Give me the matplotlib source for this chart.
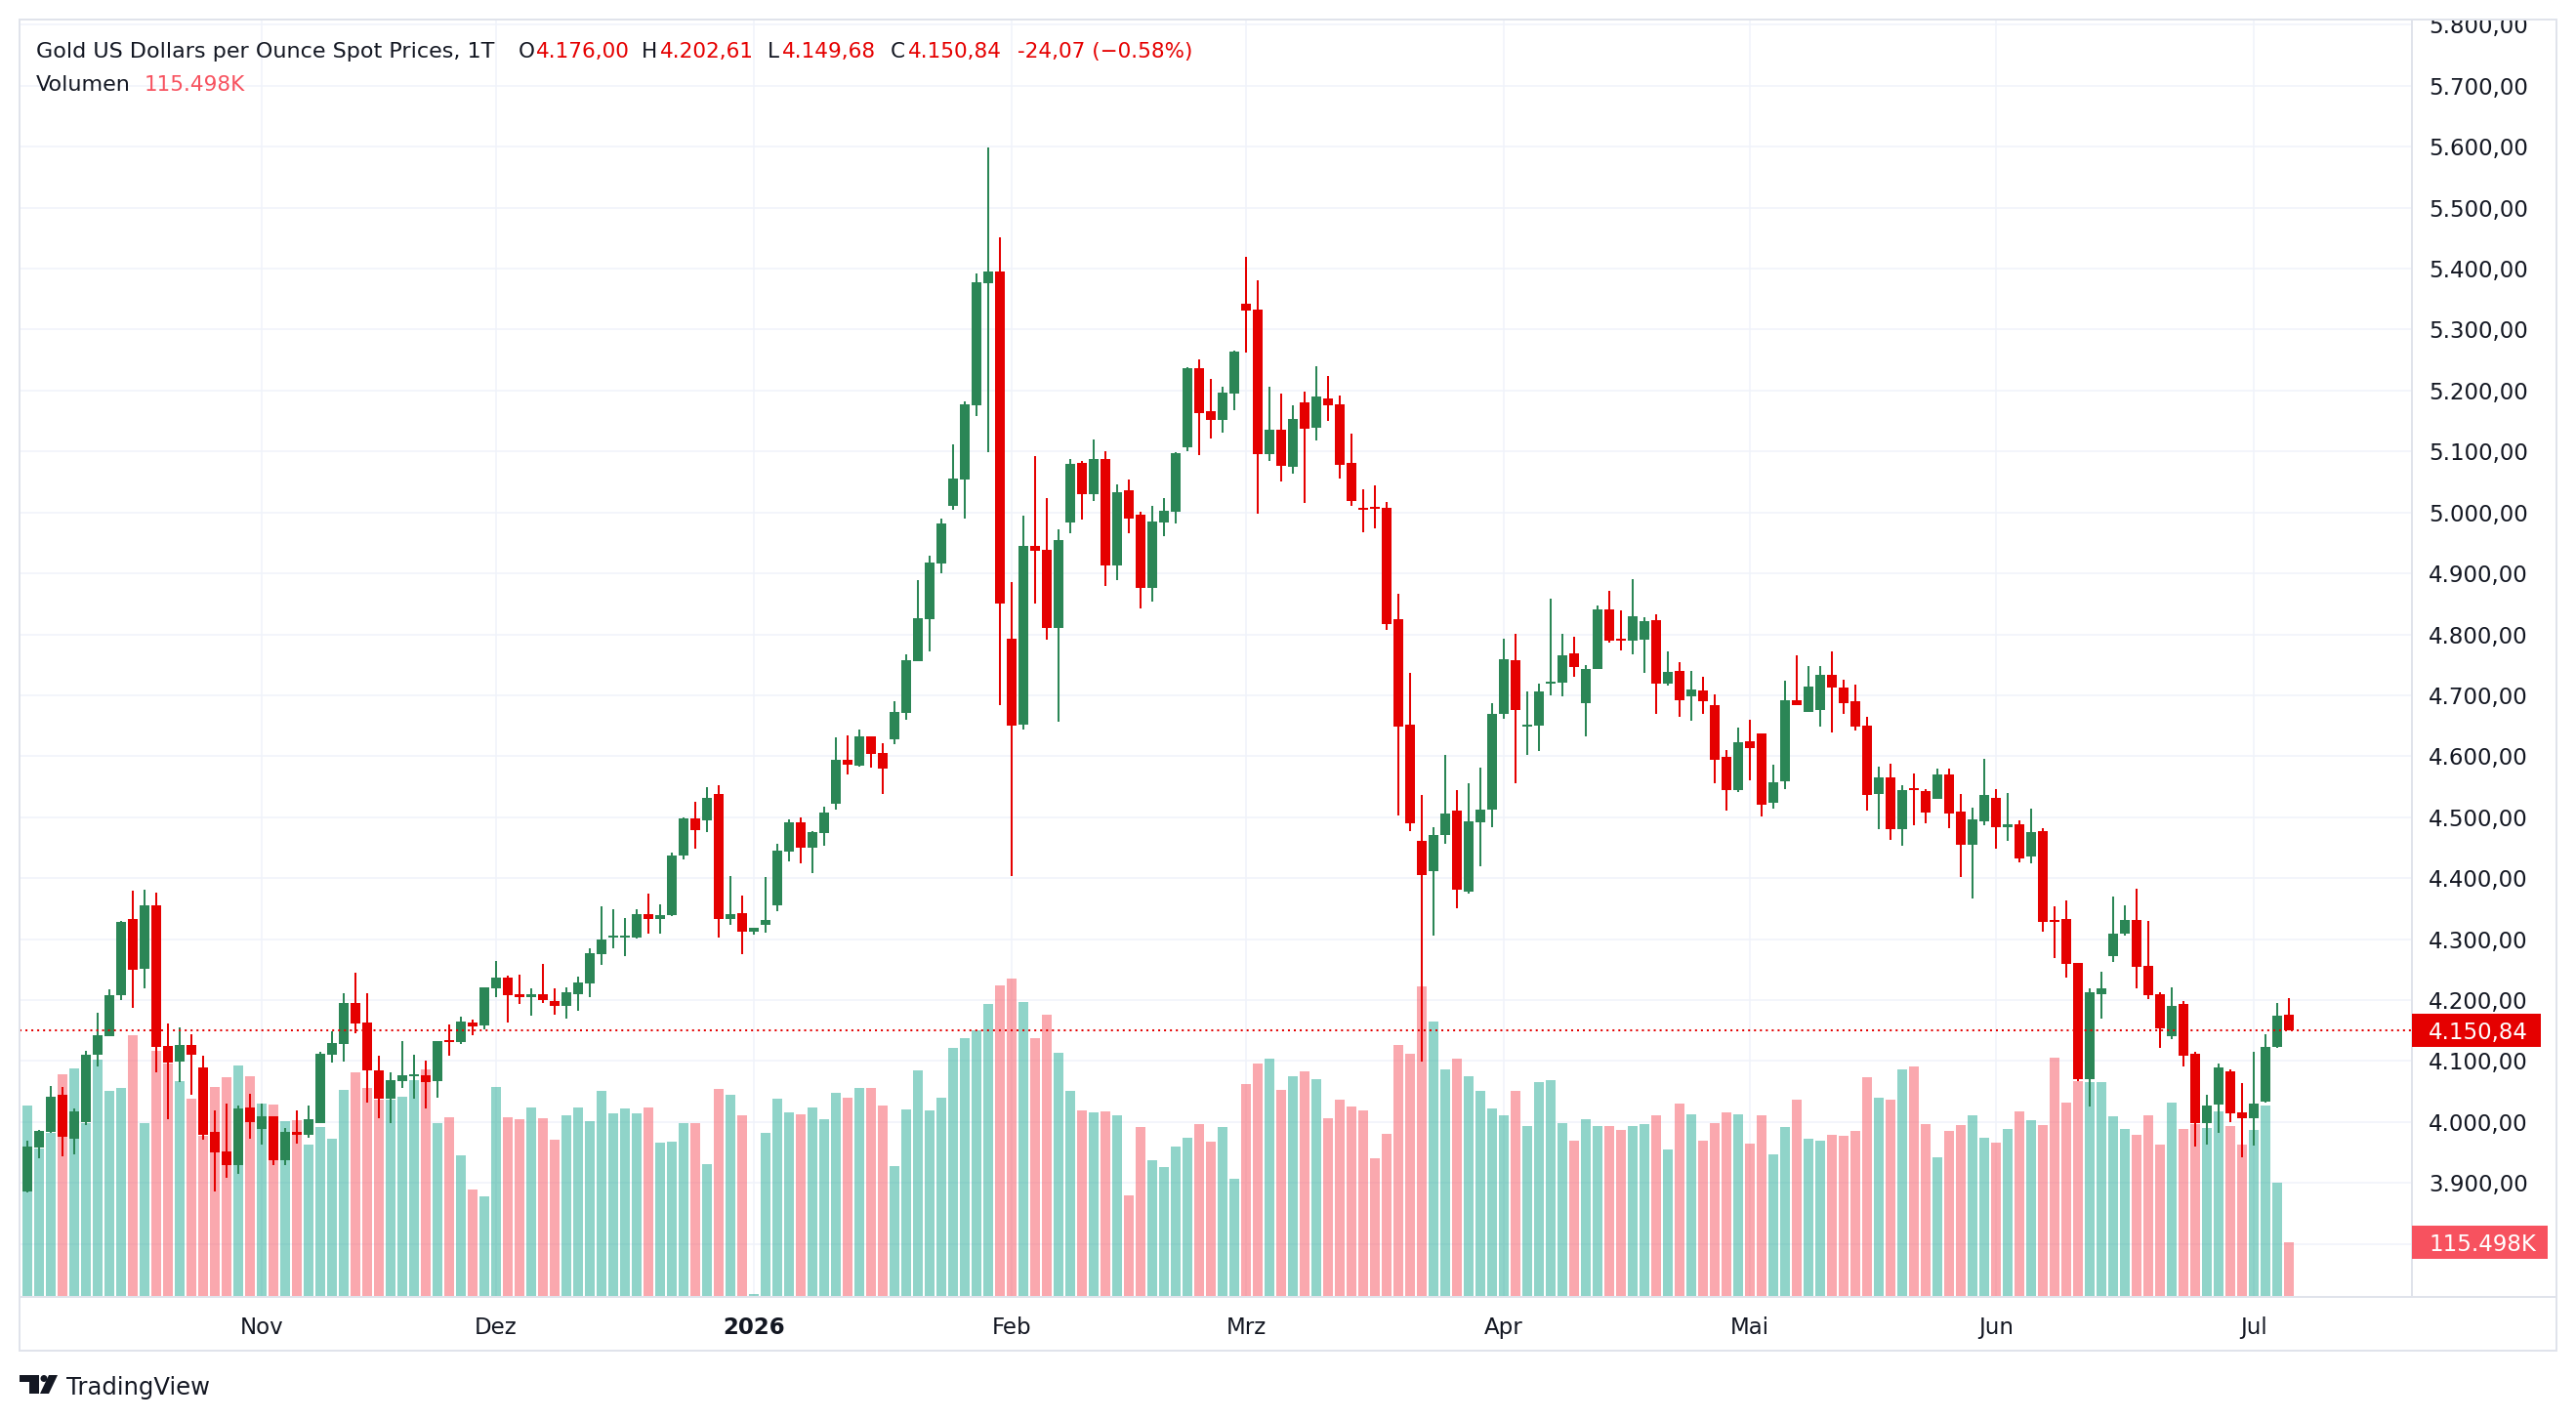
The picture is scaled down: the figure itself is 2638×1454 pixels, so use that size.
import numpy as np
import matplotlib.pyplot as plt
from matplotlib.lines import Line2D
from matplotlib.patches import Rectangle, Ellipse, Polygon
from matplotlib.transforms import Affine2D, Bbox, TransformedBbox, blended_transform_factory

W, H = 2638, 1454

# daily candles, first one is Oct 6 2025, last one Jul 6 2026
opens = [
    3885.9, 3957.9, 3983.5, 4044.3, 3972.3, 3999.5, 4109.9, 4140.3, 4207.5, 4332.3,
    4250.7, 4354.7, 4124.3, 4098.7, 4125.9, 4089.1, 3983.5, 3951.5, 3929.1, 4023.5,
    3988.3, 4009.1, 3937.1, 3983.5, 3978.7, 3997.9, 4109.9, 4127.5, 4194.7, 4162.7,
    4084.3, 4037.9, 4066.7, 4074.7, 4076.3, 4066.9, 4134.2, 4131.4, 4162.8, 4158.3,
    4219.5, 4236.3, 4209.4, 4204.9, 4209.4, 4198.7, 4190.3, 4209.9, 4227.4, 4275.1,
    4302.5, 4302.5, 4302.5, 4340.2, 4332.9, 4339.0, 4436.7, 4497.9, 4494.5, 4538.8,
    4332.9, 4341.8, 4312.1, 4323.3, 4355.3, 4443.4, 4492.2, 4449.6, 4473.2, 4521.3,
    4594.2, 4584.6, 4632.4, 4605.2, 4628.0, 4670.7, 4756.1, 4825.2, 4916.8, 5011.3,
    5054.6, 5175.9, 5376.2, 5395.4, 4792.9, 4651.6, 4945.1, 4938.7, 4811.2, 4983.5,
    5081.3, 5030.0, 5087.7, 4913.0, 5036.4, 4996.4, 4876.2, 4983.5, 5001.2, 5106.9,
    5236.7, 5166.2, 5151.8, 5195.1, 5342.5, 5332.9, 5095.7, 5135.8, 5074.9, 5180.7,
    5139.0, 5187.1, 5177.4, 5081.3, 5007.6, 5009.2, 5007.6, 4824.9, 4651.8, 4461.4,
    4411.7, 4470.5, 4511.1, 4377.0, 4491.5, 4512.4, 4669.4, 4757.6, 4648.5, 4650.2,
    4719.1, 4720.7, 4768.8, 4687.1, 4743.1, 4840.9, 4792.8, 4789.6, 4791.2, 4823.3,
    4719.1, 4739.9, 4698.3, 4708.3, 4683.9, 4598.8, 4543.8, 4624.3, 4637.3, 4522.9,
    4559.5, 4691.9, 4672.7, 4675.8, 4733.9, 4713.0, 4690.5, 4649.4, 4538.6, 4565.7,
    4479.7, 4547.9, 4542.5, 4529.3, 4569.6, 4509.9, 4454.1, 4493.6, 4530.8, 4484.3,
    4489.0, 4434.7, 4476.6, 4331.6, 4332.4, 4260.3, 4070.4, 4209.9, 4271.9, 4308.3,
    4330.8, 4255.6, 4209.1, 4140.3, 4193.1, 4111.5, 3997.9, 4028.3, 4082.7, 4015.5,
    4006.4, 4033.1, 4122.7, 4176.00,
]
highs = [
    3968.6, 3986.7, 4058.7, 4057.1, 4021.9, 4116.3, 4178.7, 4217.1, 4329.1, 4378.7,
    4380.3, 4375.5, 4161.1, 4154.7, 4143.5, 4108.3, 4018.7, 4029.9, 4026.7, 4045.9,
    4029.9, 4009.1, 3989.9, 4018.7, 4026.7, 4114.7, 4148.3, 4210.7, 4244.3, 4210.7,
    4108.3, 4081.1, 4132.3, 4109.9, 4100.3, 4132.5, 4159.4, 4172.3, 4167.3, 4220.1,
    4263.3, 4239.7, 4241.4, 4218.9, 4258.8, 4218.9, 4220.1, 4238.0, 4285.2, 4353.1,
    4349.7, 4334.0, 4348.6, 4373.8, 4356.4, 4441.2, 4499.5, 4525.9, 4550.0, 4552.4,
    4404.1, 4372.1, 4317.7, 4401.3, 4455.8, 4495.6, 4500.1, 4477.7, 4516.4, 4631.0,
    4633.9, 4643.5, 4632.4, 4621.4, 4690.6, 4767.1, 4889.0, 4928.5, 4990.0, 5111.7,
    5182.3, 5392.2, 5598.9, 5451.5, 4885.8, 4994.8, 5092.5, 5023.6, 4972.3, 5087.7,
    5084.5, 5119.8, 5100.5, 5046.0, 5054.1, 5001.2, 5010.8, 5023.6, 5098.9, 5238.4,
    5251.2, 5219.1, 5206.3, 5265.6, 5419.4, 5381.0, 5206.3, 5195.1, 5175.9, 5198.3,
    5240.0, 5223.9, 5191.9, 5129.4, 5038.0, 5044.4, 5017.2, 4866.5, 4736.7, 4536.6,
    4483.6, 4602.0, 4544.4, 4555.6, 4581.1, 4687.0, 4792.8, 4800.8, 4706.3, 4719.1,
    4858.5, 4800.8, 4796.0, 4749.5, 4847.3, 4871.3, 4839.3, 4890.6, 4828.1, 4832.9,
    4772.0, 4754.4, 4739.9, 4730.3, 4701.5, 4609.9, 4647.1, 4659.6, 4637.4, 4586.3,
    4723.9, 4765.6, 4748.7, 4748.7, 4772.7, 4726.2, 4717.6, 4665.0, 4583.5, 4588.2,
    4551.8, 4571.1, 4545.6, 4578.9, 4578.9, 4538.6, 4516.1, 4595.2, 4545.6, 4540.1,
    4495.2, 4514.5, 4481.2, 4353.3, 4362.6, 4260.3, 4219.2, 4246.3, 4369.6, 4354.9,
    4382.0, 4329.3, 4212.3, 4220.3, 4197.9, 4114.7, 4044.3, 4095.5, 4085.9, 4063.5,
    4114.7, 4143.5, 4194.7, 4202.61,
]
lows = [
    3884.8, 3940.3, 3981.9, 3943.5, 3946.7, 3994.7, 4090.7, 4140.3, 4199.5, 4186.7,
    4218.7, 4081.1, 4004.3, 4065.1, 4044.3, 3970.7, 3885.9, 3908.3, 3914.7, 3972.3,
    3962.7, 3929.1, 3929.1, 3964.3, 3973.9, 3997.9, 4097.1, 4098.7, 4145.1, 4031.5,
    4005.9, 3997.9, 4055.5, 4037.9, 4021.9, 4039.9, 4109.0, 4128.0, 4142.6, 4151.0,
    4204.3, 4162.8, 4193.1, 4174.0, 4195.4, 4176.3, 4169.5, 4182.5, 4204.3, 4257.1,
    4284.6, 4272.3, 4300.9, 4308.7, 4308.7, 4337.9, 4430.5, 4447.9, 4475.4, 4302.5,
    4323.3, 4275.1, 4307.0, 4310.4, 4345.8, 4427.1, 4424.3, 4408.1, 4453.0, 4512.5,
    4569.9, 4583.2, 4580.9, 4538.3, 4619.9, 4659.7, 4756.1, 4772.2, 4900.7, 5004.9,
    4990.5, 5158.8, 5099.5, 4684.0, 4402.9, 4643.5, 4850.5, 4790.6, 4656.0, 4965.9,
    4988.4, 5018.8, 4879.4, 4889.0, 4965.9, 4842.5, 4853.7, 4961.1, 4982.0, 5100.5,
    5094.1, 5121.4, 5131.0, 5167.8, 5262.4, 4998.0, 5084.5, 5050.9, 5063.7, 5015.6,
    5118.2, 5150.2, 5055.7, 5010.8, 4967.5, 4973.9, 4807.2, 4502.6, 4477.1, 4099.7,
    4305.7, 4456.2, 4350.8, 4374.4, 4419.5, 4483.6, 4661.4, 4554.9, 4601.4, 4607.9,
    4699.9, 4698.3, 4730.3, 4632.6, 4743.1, 4786.4, 4773.6, 4767.2, 4736.7, 4669.4,
    4715.9, 4664.6, 4658.2, 4668.8, 4555.6, 4511.1, 4540.5, 4560.2, 4501.9, 4514.4,
    4545.8, 4683.9, 4672.7, 4647.9, 4638.6, 4668.8, 4642.5, 4511.5, 4479.7, 4463.4,
    4452.5, 4487.4, 4490.5, 4529.3, 4481.2, 4401.4, 4366.5, 4487.4, 4447.9, 4461.8,
    4425.4, 4423.8, 4311.4, 4268.8, 4236.2, 4067.3, 4024.6, 4169.6, 4261.8, 4305.2,
    4219.2, 4201.4, 4121.1, 4135.5, 4090.7, 3959.5, 3962.7, 3981.9, 3999.5, 3942.5,
    3960.6, 4031.5, 4121.1, 4149.68,
]
closes = [
    3959.5, 3985.1, 4041.1, 3975.5, 4017.1, 4109.9, 4141.9, 4207.5, 4327.5, 4249.1,
    4354.7, 4122.7, 4097.1, 4125.9, 4109.9, 3978.7, 3949.9, 3929.1, 4021.9, 3999.5,
    4009.1, 3937.1, 3983.5, 3978.7, 4004.3, 4111.5, 4129.1, 4194.7, 4161.1, 4084.3,
    4037.9, 4068.3, 4076.3, 4077.9, 4065.1, 4132.5, 4131.4, 4164.5, 4156.1, 4220.1,
    4236.3, 4208.3, 4204.9, 4209.4, 4199.9, 4190.3, 4212.2, 4228.5, 4276.2, 4298.6,
    4304.8, 4304.8, 4340.2, 4332.9, 4339.0, 4437.8, 4497.9, 4478.2, 4531.0, 4332.9,
    4340.2, 4312.1, 4317.7, 4330.6, 4444.5, 4492.2, 4449.6, 4474.8, 4506.8, 4594.2,
    4585.4, 4632.4, 4603.7, 4579.5, 4672.9, 4757.5, 4826.5, 4917.9, 4981.9, 5055.7,
    5177.5, 5377.8, 5395.4, 4850.5, 4650.1, 4945.1, 4937.1, 4811.2, 4954.7, 5079.7,
    5030.0, 5087.7, 4913.0, 5033.2, 4990.0, 4876.2, 4985.2, 5002.8, 5097.3, 5236.7,
    5163.0, 5151.8, 5196.7, 5264.0, 5331.3, 5095.7, 5135.8, 5076.5, 5153.4, 5137.4,
    5190.3, 5175.8, 5078.6, 5018.8, 5004.4, 5006.0, 4816.9, 4648.6, 4490.2, 4405.1,
    4470.5, 4505.9, 4380.9, 4493.4, 4512.4, 4669.4, 4759.2, 4675.8, 4651.1, 4706.3,
    4722.3, 4765.6, 4746.3, 4743.1, 4840.9, 4789.6, 4789.6, 4829.7, 4821.7, 4719.1,
    4738.3, 4691.8, 4709.5, 4690.6, 4594.8, 4543.8, 4623.0, 4613.8, 4520.9, 4557.5,
    4691.6, 4683.9, 4714.6, 4733.9, 4712.2, 4686.6, 4647.9, 4537.0, 4565.7, 4479.7,
    4544.0, 4544.8, 4506.8, 4569.6, 4505.2, 4454.1, 4495.9, 4537.0, 4482.8, 4489.0,
    4431.6, 4475.0, 4328.5, 4328.5, 4258.7, 4070.4, 4212.2, 4219.2, 4308.3, 4330.8,
    4254.1, 4207.6, 4153.1, 4189.9, 4108.3, 3997.9, 4026.7, 4089.1, 4013.9, 4006.4,
    4029.9, 4122.2, 4174.91, 4150.84,
]
# volume in K, the first value belongs to the half hidden bar left of the first candle
volumes = [
    202.5,
    408.5, 316.9, 350.2, 475.1, 487.6, 371.0, 506.3, 439.7, 446.0, 558.3,
    371.0, 525.0, 498.0, 460.6, 423.1, 344.0, 448.0, 468.9, 493.8, 470.9,
    412.7, 410.6, 375.2, 377.3, 325.3, 362.7, 337.7, 441.8, 479.3, 446.0,
    421.0, 421.0, 427.2, 462.6, 485.5, 371.0, 383.1, 302.2, 229.1, 214.6,
    447.4, 383.1, 378.7, 403.7, 381.0, 335.0, 387.5, 403.7, 375.2, 439.5,
    391.2, 402.3, 391.2, 403.7, 329.2, 331.3, 370.8, 370.8, 283.2, 443.9,
    431.4, 387.5, 6.7, 349.6, 422.6, 393.5, 389.8, 403.7, 378.7, 434.7,
    425.1, 445.3, 445.3, 408.1, 279.1, 399.3, 483.4, 397.5, 425.1, 531.3,
    551.3, 568.5, 624.9, 664.1, 678.4, 628.7, 551.3, 602.0, 520.7, 439.5,
    397.5, 393.7, 395.6, 387.1, 216.8, 362.1, 291.3, 277.2, 321.1, 339.2,
    368.8, 331.5, 362.1, 252.2, 453.9, 497.8, 508.4, 441.4, 470.1, 480.5,
    463.6, 380.4, 419.5, 406.8, 396.6, 296.3, 346.5, 536.1, 519.0, 660.9,
    586.0, 484.2, 507.1, 471.3, 439.9, 401.0, 388.1, 438.3, 363.5, 457.0,
    461.2, 371.3, 332.1, 379.6, 363.5, 365.2, 356.7, 365.2, 367.7, 386.4,
    313.4, 411.2, 389.8, 332.1, 371.3, 394.1, 389.8, 326.1, 386.4, 303.2,
    361.1, 421.2, 336.1, 333.8, 345.9, 343.8, 354.8, 468.9, 423.5, 421.4,
    484.0, 490.1, 369.0, 298.4, 354.8, 367.1, 386.2, 339.8, 327.8, 356.9,
    396.2, 377.1, 367.1, 510.3, 414.3, 460.7, 458.7, 458.7, 384.2, 356.9,
    345.9, 386.2, 324.0, 413.5, 357.3, 367.7, 359.4, 394.8, 363.5, 324.0,
    355.2, 407.3, 242.9, 115.498,
]

month_pos = [20, 40, 62, 84, 104, 126, 147, 168, 190]
month_labels = ["Nov", "Dez", "2026", "Feb", "Mrz", "Apr", "Mai", "Jun", "Jul"]
price_ticks = np.arange(3800, 5801, 100)

GREEN = "#2b8656"
RED = "#e50000"
VOL_UP = "#22ab94"
VOL_DOWN = "#f7525f"
TEXT = "#131722"
GRID = "#f0f3fa"
BORDER = "#e0e3eb"


def de_num(v):
    s = f"{v:,.2f}"
    return s.replace(",", "X").replace(".", ",").replace("X", ".")


def fx(x):
    return x / W


def fy(y):
    return 1 - y / H


o = np.array(opens)
h = np.array(highs)
l = np.array(lows)
c = np.array(closes)
v = np.array(volumes)
n = len(o)
x = np.arange(n)
up = c >= o

fig = plt.figure(figsize=(W / 100, H / 100), dpi=100)
fig.patch.set_facecolor("white")

left, right, top, bottom = 20, 2470, 19.5, 1328
ax = fig.add_axes([fx(left), fy(bottom), (right - left) / W, (bottom - top) / H])

# volume pane shares the price axes, volume units mapped onto the lower part
VOL_TOP = 2723
vol_y = Affine2D().scale(1, 1 / VOL_TOP) + ax.transAxes
vol_trans = blended_transform_factory(ax.transData, vol_y)
vx = np.arange(-1, n)
vup = np.concatenate([[True], up])
ax.bar(vx, v, width=0.83, color=np.where(vup, VOL_UP, VOL_DOWN), alpha=0.5,
       linewidth=0, transform=vol_trans, zorder=1)

# candles
col = np.where(up, GREEN, RED)
ax.vlines(x, l, h, colors=col, linewidth=1.45, zorder=2)
body_low = np.minimum(o, c)
body_h = np.maximum(np.abs(c - o), 2.5)
ax.bar(x, body_h, bottom=body_low, width=0.83, color=col, linewidth=0, zorder=3)

ax.axhline(c[-1], color=RED, lw=1.45, ls=(0, (1, 2)), zorder=4)

ax.set_xlim(-0.67, 203.5)
ax.set_ylim(3712.7, 5809.6)

ax.set_yticks(price_ticks, ["" if p == 3800 else de_num(p) for p in price_ticks])
ax.set_xticks(month_pos)
ax.grid(True, color=GRID, lw=1.1)
ax.set_axisbelow(True)
ax.yaxis.tick_right()
ax.tick_params(axis="y", length=0, pad=12.2, labelsize=16.5, labelcolor=TEXT)
ax.tick_params(axis="x", length=0, labelbottom=False)
for s in ["top", "left"]:
    ax.spines[s].set_visible(False)
for s in ["right", "bottom"]:
    ax.spines[s].set_color(BORDER)
    ax.spines[s].set_linewidth(1.44)

clip = TransformedBbox(Bbox([[0, 0], [1, fy(top)]]), fig.transFigure)
for t in ax.get_yticklabels():
    t.set_clip_box(clip)
    t.set_clip_on(True)

xtrans = blended_transform_factory(ax.transData, ax.transAxes)
for pos, lab in zip(month_pos, month_labels):
    ax.text(pos, -(1366 - bottom) / (bottom - top), lab, transform=xtrans, ha="center",
            va="baseline", fontsize=16.5, color=TEXT,
            fontweight="bold" if lab == "2026" else "normal")

# last price / last volume labels on the price scale
ptrans = blended_transform_factory(ax.transAxes, ax.transData)
half = 17 * (5809.6 - 3712.7) / (bottom - top)
ax.add_patch(Rectangle((1.0, c[-1] - half), 132 / (right - left), 2 * half, transform=ptrans,
                       facecolor=RED, edgecolor="none", clip_on=False, zorder=6))
ax.text(1.0 + 17 / (right - left), c[-1], de_num(c[-1]), transform=ptrans, ha="left",
        va="center_baseline", fontsize=16.5, color="white", zorder=7, clip_on=False)

vtrans = blended_transform_factory(ax.transAxes, vol_y)
vhalf = 17 * VOL_TOP / (bottom - top)
ax.add_patch(Rectangle((1.0, v[-1] - vhalf), 139 / (right - left), 2 * vhalf, transform=vtrans,
                       facecolor=VOL_DOWN, edgecolor="none", clip_on=False, zorder=6))
vol_txt = f"{v[-1]:.3f}K"
ax.text(1.0 + 17 / (right - left), v[-1], vol_txt, transform=vtrans, ha="left",
        va="center_baseline", fontsize=16.5, color="white", zorder=7, clip_on=False)

# frame
fig.add_artist(Rectangle((fx(20), fy(1383.3)), (2617.7 - 20) / W, (1383.3 - 19.5) / H,
                         transform=fig.transFigure, fill=False, edgecolor=BORDER, lw=1.44))
fig.add_artist(Line2D([fx(right), fx(2617.7)], [fy(bottom), fy(bottom)],
                      transform=fig.transFigure, color=BORDER, lw=1.44))

# legend
chg = c[-1] - c[-2]
pct = chg / c[-2] * 100
sign = "-" if chg < 0 else "+"
fig.text(fx(37), fy(59.3), "Gold US Dollars per Ounce Spot Prices, 1T", ha="left",
         va="baseline", fontsize=16, color=TEXT)
header = [
    (531, "O", TEXT), (549, de_num(o[-1]), RED),
    (657, "H", TEXT), (676, de_num(h[-1]), RED),
    (786, "L", TEXT), (801, de_num(l[-1]), RED),
    (912, "C", TEXT), (930, de_num(c[-1]), RED),
    (1042, f"{sign}{de_num(abs(chg))} ({'−' if chg < 0 else '+'}{abs(pct):.2f}%)", RED),
]
for hx, txt, tc in header:
    fig.text(fx(hx), fy(59.3), txt, ha="left", va="baseline", fontsize=15.5, color=tc)
fig.text(fx(37), fy(93.3), "Volumen", ha="left", va="baseline", fontsize=16, color=TEXT)
fig.text(fx(148), fy(93.3), vol_txt, ha="left", va="baseline", fontsize=15.5, color=VOL_DOWN)

# TradingView mark
logo_t = [(20, 1408), (40, 1408), (40, 1427), (30, 1427), (30, 1415), (20, 1415)]
logo_v = [(50, 1408), (59, 1408), (50, 1427), (41, 1427)]
for pts in (logo_t, logo_v):
    fig.add_artist(Polygon([(fx(a), fy(b)) for a, b in pts], closed=True,
                           transform=fig.transFigure, facecolor=TEXT, edgecolor="none"))
fig.add_artist(Ellipse((fx(45), fy(1411.5)), 7 / W, 7 / H, transform=fig.transFigure,
                       facecolor=TEXT, edgecolor="none"))
fig.text(fx(68), fy(1428), "TradingView", ha="left", va="baseline", fontsize=17.5, color=TEXT)

fig.savefig("out.png", dpi=100, facecolor="white")
